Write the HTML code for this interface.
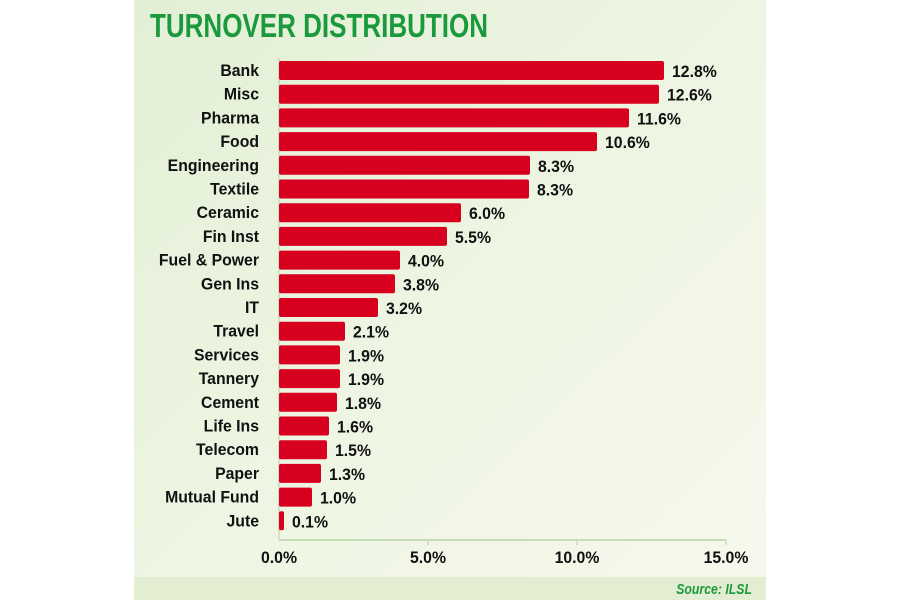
<!DOCTYPE html>
<html><head><meta charset="utf-8"><style>
body{margin:0;width:900px;height:600px;background:#fff;overflow:hidden;font-family:"Liberation Sans",sans-serif}
</style></head><body>
<svg width="900" height="600" xmlns="http://www.w3.org/2000/svg">
<defs>
<linearGradient id="bg" x1="0" y1="0" x2="1" y2="1">
<stop offset="0" stop-color="#e2efd6"/><stop offset="0.5" stop-color="#eef5e2"/><stop offset="1" stop-color="#f6f8ec"/>
</linearGradient>
</defs>
<rect x="134" y="0" width="632" height="600" fill="url(#bg)"/>
<rect x="134" y="577" width="632" height="23" fill="#e2edd2"/>
<text x="150" y="37" font-size="33" font-weight="bold" fill="#1a9a3c" textLength="338" lengthAdjust="spacingAndGlyphs">TURNOVER DISTRIBUTION</text>
<line x1="279" y1="58" x2="279" y2="540" stroke="#c8dcb8" stroke-width="1.5"/>
<line x1="279" y1="540" x2="726" y2="540" stroke="#c8dcb8" stroke-width="2"/>
<g stroke="#c8dcb8" stroke-width="1.5"><line x1="428" y1="540" x2="428" y2="545"/><line x1="577" y1="540" x2="577" y2="545"/><line x1="726" y1="540" x2="726" y2="545"/></g>
<g font-size="17" font-weight="bold" fill="#111" text-anchor="middle">
<text transform="translate(279,563) scale(.93,1)">0.0%</text><text transform="translate(428,563) scale(.93,1)">5.0%</text><text transform="translate(577,563) scale(.93,1)">10.0%</text><text transform="translate(726,563) scale(.93,1)">15.0%</text>
</g>
<text transform="translate(752,594) scale(.82,1)" font-size="15" font-weight="bold" font-style="italic" fill="#1a9a3c" text-anchor="end">Source: ILSL</text>
<g font-size="17" font-weight="bold" fill="#111">
<g text-anchor="end">
<text transform="translate(259,76) scale(.93,1)">Bank</text><text transform="translate(259,99.7) scale(.93,1)">Misc</text><text transform="translate(259,123.4) scale(.93,1)">Pharma</text><text transform="translate(259,147.1) scale(.93,1)">Food</text><text transform="translate(259,170.8) scale(.93,1)">Engineering</text><text transform="translate(259,194.5) scale(.93,1)">Textile</text><text transform="translate(259,218.2) scale(.93,1)">Ceramic</text><text transform="translate(259,241.9) scale(.93,1)">Fin Inst</text><text transform="translate(259,265.6) scale(.93,1)">Fuel &amp; Power</text><text transform="translate(259,289.3) scale(.93,1)">Gen Ins</text><text transform="translate(259,313) scale(.93,1)">IT</text><text transform="translate(259,336.7) scale(.93,1)">Travel</text><text transform="translate(259,360.4) scale(.93,1)">Services</text><text transform="translate(259,384.1) scale(.93,1)">Tannery</text><text transform="translate(259,407.8) scale(.93,1)">Cement</text><text transform="translate(259,431.5) scale(.93,1)">Life Ins</text><text transform="translate(259,455.2) scale(.93,1)">Telecom</text><text transform="translate(259,478.9) scale(.93,1)">Paper</text><text transform="translate(259,502.6) scale(.93,1)">Mutual Fund</text><text transform="translate(259,526.3) scale(.93,1)">Jute</text>
</g>
<g fill="#d7001e">
<rect x="279" y="61" width="385" height="19" rx="2"/>
<rect x="279" y="84.7" width="380" height="19" rx="2"/>
<rect x="279" y="108.4" width="350" height="19" rx="2"/>
<rect x="279" y="132.1" width="318" height="19" rx="2"/>
<rect x="279" y="155.8" width="251" height="19" rx="2"/>
<rect x="279" y="179.5" width="250" height="19" rx="2"/>
<rect x="279" y="203.2" width="182" height="19" rx="2"/>
<rect x="279" y="226.9" width="168" height="19" rx="2"/>
<rect x="279" y="250.6" width="121" height="19" rx="2"/>
<rect x="279" y="274.3" width="116" height="19" rx="2"/>
<rect x="279" y="298" width="99" height="19" rx="2"/>
<rect x="279" y="321.7" width="66" height="19" rx="2"/>
<rect x="279" y="345.4" width="61" height="19" rx="2"/>
<rect x="279" y="369.1" width="61" height="19" rx="2"/>
<rect x="279" y="392.8" width="58" height="19" rx="2"/>
<rect x="279" y="416.5" width="50" height="19" rx="2"/>
<rect x="279" y="440.2" width="48" height="19" rx="2"/>
<rect x="279" y="463.9" width="42" height="19" rx="2"/>
<rect x="279" y="487.6" width="33" height="19" rx="2"/>
<rect x="279" y="511.3" width="5" height="19" rx="2"/>
</g>
<text transform="translate(672,77) scale(.93,1)">12.8%</text><text transform="translate(667,100.7) scale(.93,1)">12.6%</text><text transform="translate(637,124.4) scale(.93,1)">11.6%</text><text transform="translate(605,148.1) scale(.93,1)">10.6%</text><text transform="translate(538,171.8) scale(.93,1)">8.3%</text><text transform="translate(537,195.5) scale(.93,1)">8.3%</text><text transform="translate(469,219.2) scale(.93,1)">6.0%</text><text transform="translate(455,242.9) scale(.93,1)">5.5%</text><text transform="translate(408,266.6) scale(.93,1)">4.0%</text><text transform="translate(403,290.3) scale(.93,1)">3.8%</text><text transform="translate(386,314) scale(.93,1)">3.2%</text><text transform="translate(353,337.7) scale(.93,1)">2.1%</text><text transform="translate(348,361.4) scale(.93,1)">1.9%</text><text transform="translate(348,385.1) scale(.93,1)">1.9%</text><text transform="translate(345,408.8) scale(.93,1)">1.8%</text><text transform="translate(337,432.5) scale(.93,1)">1.6%</text><text transform="translate(335,456.2) scale(.93,1)">1.5%</text><text transform="translate(329,479.9) scale(.93,1)">1.3%</text><text transform="translate(320,503.6) scale(.93,1)">1.0%</text><text transform="translate(292,527.3) scale(.93,1)">0.1%</text>
</g>
</svg>
</body></html>
